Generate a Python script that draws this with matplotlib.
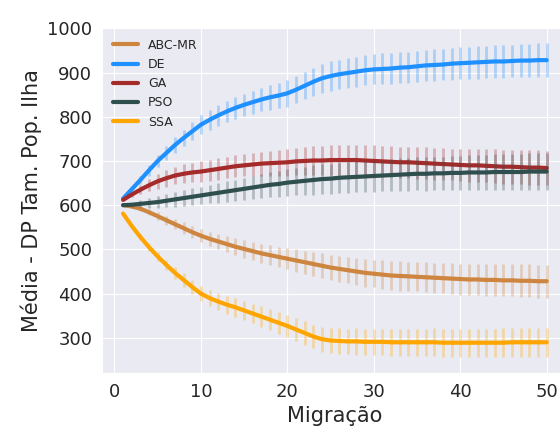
import numpy as np
import matplotlib
matplotlib.use("Agg")
import matplotlib.pyplot as plt
import seaborn as sns

sns.set_style("darkgrid")

migracao = list(range(1, 51))

# medias
abc_mr = [600, 597, 592, 584, 575, 566, 557, 548, 539, 531,
          524, 518, 512, 506, 501, 496, 491, 487, 483, 479,
          475, 471, 467, 463, 459, 456, 453, 450, 447, 445,
          443, 441, 440, 439, 438, 437, 436, 435, 434, 433,
          432, 432, 431, 431, 430, 430, 429, 429, 428, 428]
de = [615, 636, 657, 679, 700, 718, 736, 752, 767, 782,
      793, 803, 812, 820, 827, 833, 839, 844, 848, 853,
      861, 870, 879, 887, 892, 896, 899, 902, 905, 907,
      908, 909, 911, 912, 914, 916, 917, 918, 920, 921,
      922, 923, 924, 925, 925, 926, 927, 927, 928, 928]
ga = [612, 624, 635, 645, 654, 661, 667, 671, 674, 676,
      679, 682, 685, 688, 690, 692, 694, 695, 696, 697,
      699, 700, 701, 701, 702, 702, 702, 702, 701, 700,
      699, 698, 697, 697, 696, 695, 694, 693, 692, 691,
      690, 690, 689, 688, 687, 687, 686, 685, 685, 684]
pso = [600, 601, 603, 605, 607, 610, 613, 616, 619, 622,
       625, 628, 631, 634, 637, 640, 643, 646, 648, 651,
       653, 655, 657, 659, 660, 662, 663, 664, 665, 666,
       667, 668, 669, 670, 671, 671, 672, 672, 673, 673,
       674, 674, 674, 675, 675, 675, 675, 676, 676, 676]
ssa = [581, 553, 528, 505, 484, 465, 447, 431, 415, 400,
       390, 382, 375, 369, 362, 355, 348, 341, 334, 327,
       319, 311, 303, 297, 294, 293, 292, 292, 291, 291,
       291, 290, 290, 290, 290, 290, 290, 289, 289, 289,
       289, 289, 289, 289, 289, 290, 290, 290, 290, 290]

# desvios padrao
abc_mr_dp = [0, 3, 5, 7, 9, 10, 12, 13, 14, 15,
             16, 17, 18, 19, 20, 20, 21, 22, 23, 24,
             25, 26, 27, 28, 28, 29, 30, 30, 31, 31,
             32, 32, 33, 33, 33, 34, 34, 34, 35, 35,
             35, 35, 36, 36, 36, 36, 37, 37, 37, 37]
de_dp = [0, 5, 9, 12, 14, 16, 18, 19, 20, 21,
         22, 23, 24, 25, 25, 26, 27, 28, 29, 30,
         30, 31, 32, 33, 33, 33, 34, 34, 34, 34,
         35, 35, 35, 35, 35, 36, 36, 36, 36, 36,
         36, 37, 37, 37, 37, 37, 38, 38, 38, 38]
ga_dp = [0, 6, 10, 14, 17, 19, 20, 21, 22, 23,
         24, 24, 24, 25, 25, 26, 27, 28, 29, 30,
         31, 32, 33, 33, 34, 34, 35, 35, 35, 35,
         35, 35, 35, 35, 36, 36, 36, 36, 36, 37,
         37, 37, 37, 38, 38, 38, 38, 39, 39, 39]
pso_dp = [0, 5, 8, 11, 13, 15, 17, 18, 19, 20,
          21, 22, 23, 24, 25, 26, 27, 28, 29, 30,
          31, 32, 33, 33, 34, 34, 35, 35, 35, 36,
          36, 36, 37, 37, 37, 38, 38, 38, 38, 39,
          39, 39, 39, 40, 40, 40, 40, 41, 41, 41]
ssa_dp = [0, 4, 6, 8, 10, 12, 14, 15, 16, 17,
          18, 19, 20, 21, 22, 22, 23, 24, 25, 25,
          26, 27, 27, 28, 28, 29, 29, 30, 30, 30,
          30, 31, 31, 31, 31, 31, 32, 32, 32, 32,
          32, 32, 32, 32, 33, 33, 33, 33, 33, 33]

nomes = ["ABC-MR", "DE", "GA", "PSO", "SSA"]
medias = [abc_mr, de, ga, pso, ssa]
desvios = [abc_mr_dp, de_dp, ga_dp, pso_dp, ssa_dp]
cores = ["peru", "dodgerblue", "brown", "darkslategray", "orange"]

fig = plt.figure(figsize=(5.6, 4.28), dpi=100)
ax = fig.add_axes([0.182, 0.129, 0.832, 0.807])

for nome, m, dp, c in zip(nomes, medias, desvios, cores):
    ax.errorbar(migracao, m, yerr=dp, fmt="none", ecolor=c, alpha=0.3, elinewidth=2)
    ax.plot(migracao, m, color=c, linewidth=3, label=nome)

ax.set_xlim(-1.45, 52.45)
ax.set_ylim(221, 1002)
ax.set_xticks([0, 10, 20, 30, 40, 50])
ax.set_yticks([300, 400, 500, 600, 700, 800, 900, 1000])
ax.tick_params(labelsize=13)
ax.set_xlabel("Migração", fontsize=15)
ax.set_ylabel("Média - DP Tam. Pop. Ilha", fontsize=15)
ax.legend(loc="upper left", fontsize=9, frameon=False)

fig.savefig("out.png", dpi=100)
